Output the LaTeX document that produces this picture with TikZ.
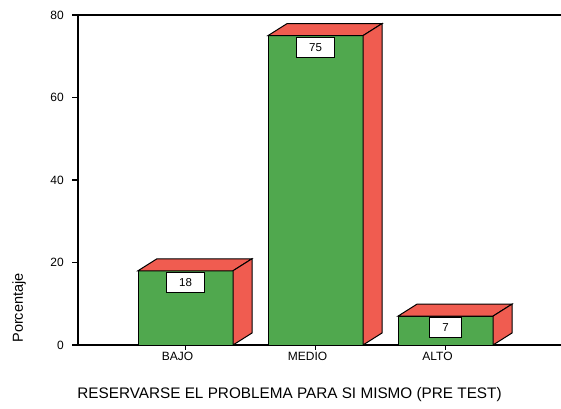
\documentclass[tikz,border=0pt]{standalone}
\usepackage{fontspec}
\setmainfont{Liberation Sans}
\definecolor{bargreen}{RGB}{80,168,78}
\definecolor{barred}{RGB}{240,92,80}
\begin{document}
\begin{tikzpicture}[x=1pt,y=1pt,
  valbox/.style={draw,fill=white,line width=1pt,minimum width=30pt,minimum height=20pt,inner xsep=13pt,anchor=north,font=\fontsize{11.5}{12}\selectfont},
  catlabel/.style={anchor=north,inner sep=0pt,font=\fontsize{12}{13}\selectfont},
  ticklabel/.style={anchor=east,inner sep=0pt,font=\fontsize{12}{13}\selectfont}]
\useasboundingbox (0,0) rectangle (561,408);

%Axis settings
\def\ox{78}
\def\oy{63}
\def\ppu{4.125}
\def\bw{95}
\def\ddx{19}
\def\ddy{12}

%Marking coordinates
\coordinate (O) at (\ox,\oy);
\coordinate (T) at (\ox,393);
\coordinate (TR) at (561,393);
\coordinate (BR) at (561,\oy);

%Drawing axes
\draw[line width=1.1pt] (TR) -- (T) -- (O) -- (BR);
\foreach \v in {0,20,40,60,80}{
  \draw[line width=1.1pt] (\ox-6,\oy+\v*\ppu) -- (\ox,\oy+\v*\ppu);
  \node[ticklabel] (y\v) at (64,\oy+\v*\ppu) {\v};
}

%Drawing bars
\foreach \name/\x/\v in {BAJO/138/18,MEDIO/268/75,ALTO/398/7}{
  \draw[line width=1pt,fill=bargreen] (\x,\oy) rectangle (\x+\bw,\oy+\v*\ppu);
  \draw[line width=1pt,fill=barred] (\x,\oy+\v*\ppu) -- ++(\ddx,\ddy) -- ++(\bw,0) -- ++(-\ddx,-\ddy) -- cycle;
  \draw[line width=1pt,fill=barred] (\x+\bw,\oy) -- ++(\ddx,\ddy) -- ++(0,\v*\ppu) -- ++(-\ddx,-\ddy) -- cycle;
  \node[valbox] (v\name) at (\x+\bw/2,\oy+\v*\ppu-1) {\v};
  \draw[line width=1pt] (\x+\bw/2,\oy) -- ++(0,-5);
  \node[catlabel] (c\name) at (\x+\bw/2-8,\oy-7) {\name};
}

%Axis titles
\node[rotate=90,font=\fontsize{14.5}{15}\selectfont] (ylab) at (19,100) {Porcentaje};
\node[font=\fontsize{15.3}{16}\selectfont] (xlab) at (289.5,13) {RESERVARSE EL PROBLEMA PARA SI MISMO (PRE TEST)};
\end{tikzpicture}
\end{document}
